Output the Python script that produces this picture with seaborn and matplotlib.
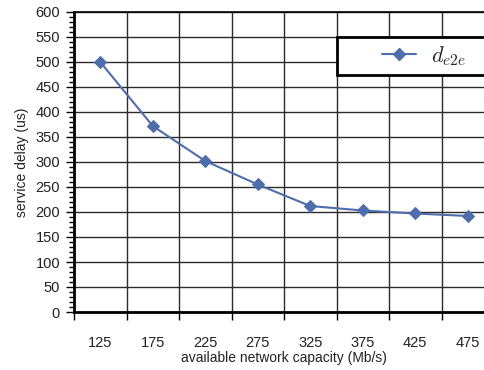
import matplotlib
matplotlib.use('Agg')
import matplotlib.pyplot as plt
from matplotlib.patches import Rectangle
from matplotlib.ticker import MultipleLocator
import pandas as pd
import seaborn as sns

capacity = ['125', '175', '225', '275', '325', '375', '425', '475']
delay = [500, 372, 302, 255, 212, 203, 197, 192]
series_name = r'$d_{e2e}$'

LINE_COLOR = '#4e6dab'
GRID_COLOR = '#2b2b2b'

sns.set_style('white')
plt.rcParams['font.family'] = ['Liberation Sans', 'DejaVu Sans']
plt.rcParams['mathtext.fontset'] = 'cm'

df = pd.DataFrame({'capacity': capacity, 'delay': delay, 'series': series_name})

fig = plt.figure(figsize=(4.84, 3.70), dpi=100)
ax = fig.add_axes([74 / 484, 58 / 370, 420 / 484, 300 / 370])

sns.lineplot(data=df, x='capacity', y='delay', ax=ax, color=LINE_COLOR,
             marker='D', markersize=6.5, markeredgecolor=LINE_COLOR,
             linewidth=1.5, legend=False, sort=False)

ax.set_xlim(-0.5, len(capacity) - 0.5)
ax.set_ylim(0, 600)

# category labels in the middle, gridlines/ticks on the boundaries
ax.set_xticks(range(len(capacity)))
ax.set_xticklabels(capacity)
ax.set_xticks([i - 0.5 for i in range(len(capacity) + 1)], minor=True)
ax.tick_params(axis='x', which='major', length=0, pad=17, labelsize=10.5,
               labelcolor='#222222')
ax.tick_params(axis='x', which='minor', length=6, width=1, color='black',
               direction='out', bottom=True)

ax.yaxis.set_major_locator(MultipleLocator(50))
ax.yaxis.set_minor_locator(MultipleLocator(10))
ax.tick_params(axis='y', which='major', length=6, width=1, color='black',
               direction='out', left=True, labelsize=10.5, labelcolor='#222222',
               pad=4)
ax.tick_params(axis='y', which='minor', length=3.5, width=1, color='black',
               direction='out', left=True)

ax.xaxis.grid(True, which='minor', color=GRID_COLOR, linewidth=1)
ax.xaxis.grid(False, which='major')
ax.yaxis.grid(True, which='major', color=GRID_COLOR, linewidth=1)
ax.set_axisbelow(True)

for side in ['left', 'bottom']:
    ax.spines[side].set_linewidth(2)
    ax.spines[side].set_color('black')
ax.spines['top'].set_linewidth(1.2)
ax.spines['top'].set_color('black')
ax.spines['right'].set_visible(False)

ax.set_xlabel('available network capacity (Mb/s)', fontsize=10,
              color='#222222', labelpad=1)
ax.set_ylabel('service delay (us)', fontsize=10, color='#222222', labelpad=5)

# legend box
ax.add_patch(Rectangle((0.626, 0.79), 0.40, 0.127, transform=ax.transAxes,
                       facecolor='white', edgecolor='black', linewidth=2,
                       clip_on=False, zorder=5))
handle = plt.Line2D([], [], color=LINE_COLOR, marker='D', markersize=6.5,
                    linewidth=1.5)
leg = ax.legend([handle], [series_name], loc='center left',
                bbox_to_anchor=(0.708, 0.853), frameon=False, fontsize=16,
                handlelength=1.5, handletextpad=0.7, borderpad=0)
leg.set_zorder(6)

fig.savefig('out.png', dpi=100)
